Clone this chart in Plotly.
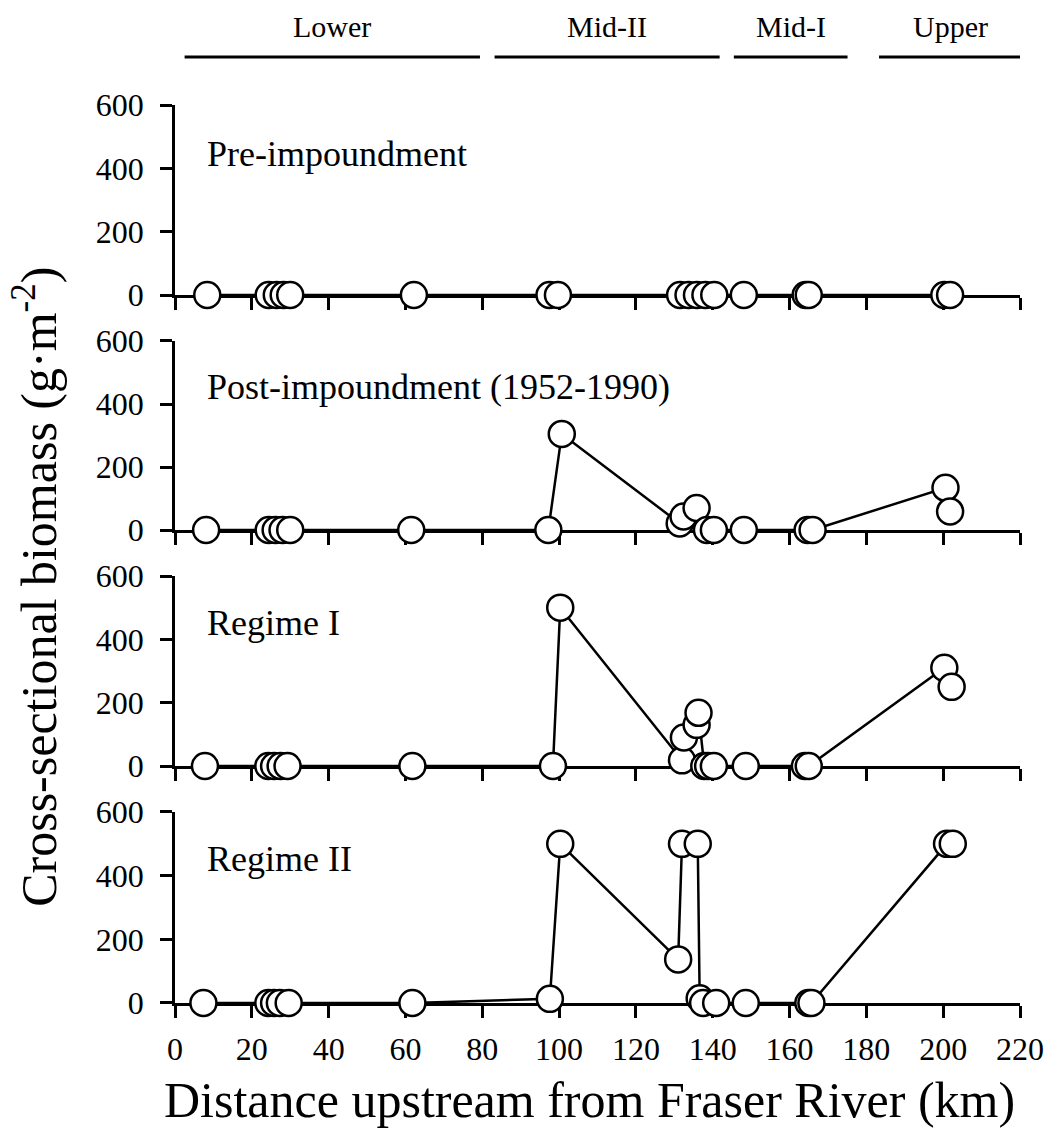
import plotly.graph_objects as go

# Cross-sectional biomass along the river, four periods
panel_titles = ["Pre-impoundment", "Post-impoundment (1952-1990)", "Regime I", "Regime II"]

pre_km = [8.4, 24.4, 26.5, 28.3, 30.0, 62.2, 97.5, 99.7, 131.5, 133.7, 135.9, 138.1,
          140.4, 148.1, 164.2, 165.0, 200.3, 201.8]
pre_biomass = [0] * len(pre_km)

post_km = [8.1, 24.4, 26.2, 28.0, 30.0, 61.5, 97.2, 100.7, 131.4, 132.4, 135.8, 138.5,
           140.3, 148.1, 164.7, 166.0, 200.6, 201.8]
post_biomass = [0, 0, 0, 0, 0, 0, 0, 305, 21, 43, 70, 0, 0, 0, 0, 0, 134, 59]

reg1_km = [7.8, 24.3, 25.8, 27.5, 29.3, 61.8, 98.4, 100.3, 132.0, 132.5, 135.8, 136.3,
           137.8, 138.8, 140.3, 148.6, 164.0, 165.0, 200.3, 202.2]
reg1_biomass = [0, 0, 0, 0, 0, 0, 0, 500, 18, 90, 130, 168, 0, 0, 0, 0, 0, 0, 310, 250]

reg2_km = [7.4, 24.3, 25.8, 27.3, 29.6, 61.8, 97.6, 100.3, 131.0, 132.0, 136.1, 136.6,
           137.5, 140.9, 148.6, 164.9, 165.7, 201.0, 202.5]
reg2_biomass = [0, 0, 0, 0, 0, 0, 13, 500, 137, 500, 500, 15, 0, 0, 0, 0, 0, 500, 500]

series_km = [pre_km, post_km, reg1_km, reg2_km]
series_biomass = [pre_biomass, post_biomass, reg1_biomass, reg2_biomass]

# River reaches (km from the Fraser River)
reach_names = ["Lower", "Mid-II", "Mid-I", "Upper"]
reach_start = [2.5, 83.2, 145.5, 183.3]
reach_end = [79.4, 141.8, 175.1, 220.3]

x_ticks = list(range(0, 221, 20))
y_ticks = [0, 200, 400, 600]

FONT = "Liberation Serif"

# vertical domains (paper fraction) of the four stacked panels, top to bottom
domains = [(0.7884, 1.0), (0.5267, 0.7372), (0.2639, 0.4755), (0.0, 0.2127)]

fig = go.Figure()
layout = {}
for i in range(4):
    n = i + 1
    xa = "x" if n == 1 else f"x{n}"
    ya = "y" if n == 1 else f"y{n}"
    fig.add_trace(go.Scatter(
        x=series_km[i], y=series_biomass[i], xaxis=xa, yaxis=ya,
        mode="lines+markers", cliponaxis=False, showlegend=False,
        line=dict(color="black", width=2.5),
        marker=dict(symbol="circle", size=26, color="white",
                    line=dict(color="black", width=2.5)),
    ))
    layout[f"xaxis{'' if n == 1 else n}"] = dict(
        domain=[0, 1], anchor=ya, range=[0, 220], tickvals=x_ticks,
        showticklabels=(n == 4), ticks="outside", ticklen=12, tickwidth=2.5,
        tickcolor="black", showline=True, linecolor="black", linewidth=2.5,
        showgrid=False, zeroline=False, layer="below traces",
        ticklabelstandoff=4,
        tickfont=dict(family=FONT, size=32, color="black"),
    )
    layout[f"yaxis{'' if n == 1 else n}"] = dict(
        domain=list(domains[i]), anchor=xa, range=[0, 600], tickvals=y_ticks,
        ticks="outside", ticklen=12, tickwidth=2.5, tickcolor="black",
        showline=True, linecolor="black", linewidth=2.5, showgrid=False,
        zeroline=False, layer="below traces", ticklabelstandoff=10,
        tickfont=dict(family=FONT, size=32, color="black"),
    )

fig.update_layout(**layout)

annotations = []
title_y = [0.945, 0.686, 0.423, 0.16]
for i, t in enumerate(panel_titles):
    annotations.append(dict(
        text=t, xref="paper", yref="paper", x=0.036, y=title_y[i],
        xanchor="left", yanchor="middle", showarrow=False,
        font=dict(family=FONT, size=36, color="black"),
    ))

shapes = []
for name, a, b in zip(reach_names, reach_start, reach_end):
    shapes.append(dict(
        type="line", xref="x4", yref="paper", x0=a, x1=b, y0=1.0535, y1=1.0535,
        line=dict(color="black", width=3),
    ))
    annotations.append(dict(
        text=name, xref="x4", yref="paper", x=(a + b) / 2, y=1.087,
        xanchor="center", yanchor="middle", showarrow=False,
        font=dict(family=FONT, size=30, color="black"),
    ))

annotations.append(dict(
    text="Distance upstream from Fraser River (km)", xref="paper", yref="paper",
    x=0.49, y=-0.108, xanchor="center", yanchor="middle", showarrow=False,
    font=dict(family=FONT, size=50, color="black"),
))
annotations.append(dict(
    text="Cross-sectional biomass (g·m<sup>-2</sup>)", xref="paper", yref="paper",
    x=-0.165, y=0.463, xanchor="center", yanchor="middle", textangle=-90,
    showarrow=False, font=dict(family=FONT, size=50, color="black"),
))

fig.update_layout(
    width=1056, height=1141,
    margin=dict(l=175, r=28, t=105, b=138),
    paper_bgcolor="white", plot_bgcolor="white",
    annotations=annotations, shapes=shapes,
)

fig.write_html("out.html")
